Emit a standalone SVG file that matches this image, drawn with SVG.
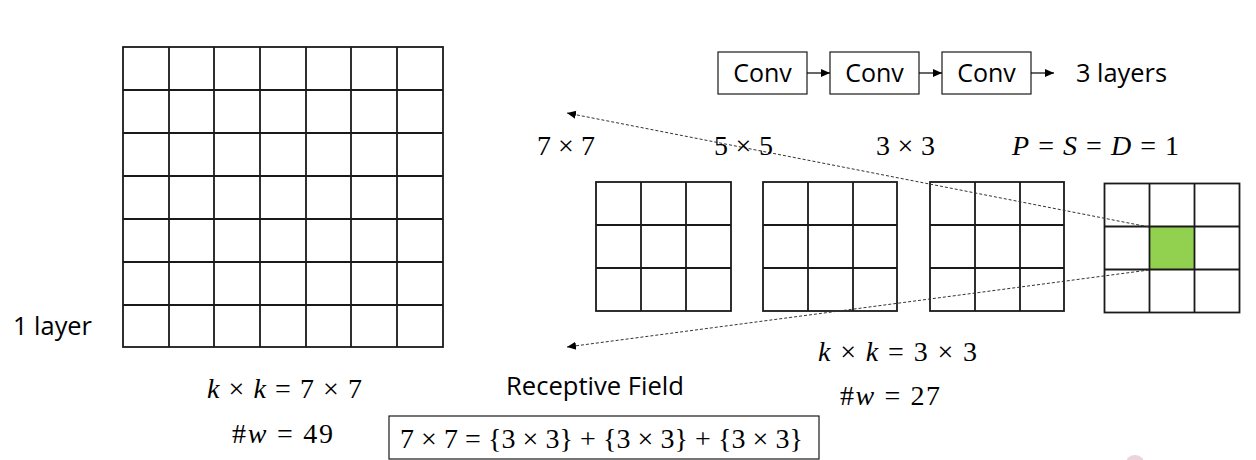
<svg xmlns="http://www.w3.org/2000/svg" width="1256" height="460" viewBox="0 0 1256 460">
<style>
.grid{fill:none;stroke:#1a1a1a;stroke-width:1.8}
.box{fill:#fff;stroke:#1a1a1a;stroke-width:1.2}
.sans{font-family:"Open Sans","Noto Sans",sans-serif;font-size:25px;fill:#000}
.math{font-family:"Liberation Serif","DejaVu Serif",serif;font-size:28px;fill:#000}
.it{font-style:italic}
.dash{fill:none;stroke:#333;stroke-width:1;stroke-dasharray:3 2}
.solid{fill:none;stroke:#000;stroke-width:1.2}
</style>
<defs>
<marker id="ah" markerWidth="10" markerHeight="10" refX="9" refY="5" orient="auto" markerUnits="userSpaceOnUse">
<path d="M0,1 L9,5 L0,9 Z" fill="#000"/>
</marker>
</defs>
<rect width="1256" height="460" fill="#fff"/>

<g id="big-grid">
<rect class="grid" x="123" y="47" width="320" height="300"/>
<path class="grid" d="M169,47V347M214,47V347M260,47V347M306,47V347M351,47V347M397,47V347M123,90H443M123,133H443M123,176H443M123,219H443M123,262H443M123,305H443"/>
</g>

<g id="grid1">
<rect class="grid" x="596" y="182" width="135" height="129"/>
<path class="grid" d="M641,182V311M686,182V311M596,225H731M596,268H731"/>
</g>
<g id="grid2">
<rect class="grid" x="763" y="182" width="134" height="129"/>
<path class="grid" d="M808,182V311M853,182V311M763,225H897M763,268H897"/>
</g>
<g id="grid3">
<rect class="grid" x="930" y="182" width="134" height="129"/>
<path class="grid" d="M975,182V311M1020,182V311M930,225H1064M930,268H1064"/>
</g>
<g id="grid4">
<rect x="1149.5" y="226.5" width="45" height="43" fill="#92d050"/>
<rect class="grid" x="1104.5" y="183.5" width="135" height="129"/>
<path class="grid" d="M1149.5,183.5V312.5M1194.5,183.5V312.5M1104.5,226.5H1239.5M1104.5,269.5H1239.5"/>
</g>

<g id="conv1"><rect class="box" x="718" y="52" width="89" height="42"/><text class="sans" x="762.5" y="82" text-anchor="middle">Conv</text></g>
<g id="conv2"><rect class="box" x="830" y="52" width="89" height="42"/><text class="sans" x="874.5" y="82" text-anchor="middle">Conv</text></g>
<g id="conv3"><rect class="box" x="942" y="52" width="89" height="42"/><text class="sans" x="986.5" y="82" text-anchor="middle">Conv</text></g>
<g id="label-3layers"><text class="sans" x="1076" y="82" textLength="91" lengthAdjust="spacingAndGlyphs">3 layers</text></g>
<g id="label-1layer"><text class="sans" x="13" y="335" textLength="79" lengthAdjust="spacingAndGlyphs">1 layer</text></g>
<g id="label-rf"><text class="sans" x="506" y="395" textLength="178" lengthAdjust="spacingAndGlyphs">Receptive Field</text></g>

<g id="connectors">
<line class="solid" x1="807" y1="73" x2="830" y2="73" marker-end="url(#ah)"/>
<line class="solid" x1="919" y1="73" x2="942" y2="73" marker-end="url(#ah)"/>
<line class="solid" x1="1031" y1="73" x2="1054" y2="73" marker-end="url(#ah)"/>
<line class="dash" x1="1149" y1="227" x2="567" y2="113" marker-end="url(#ah)"/>
<line class="dash" x1="1149" y1="270" x2="567" y2="347" marker-end="url(#ah)"/>
</g>

<g id="math-labels">
<text class="math" x="537" y="155" textLength="58" lengthAdjust="spacing">7 × 7</text>
<text class="math" x="714" y="155" textLength="59" lengthAdjust="spacing">5 × 5</text>
<text class="math" x="876" y="155" textLength="59" lengthAdjust="spacing">3 × 3</text>
<text class="math" x="1012" y="155" textLength="167" lengthAdjust="spacing"><tspan class="it">P</tspan> = <tspan class="it">S</tspan> = <tspan class="it">D</tspan> = 1</text>
<text class="math" x="207" y="398" textLength="155" lengthAdjust="spacing"><tspan class="it">k</tspan> × <tspan class="it">k</tspan> = 7 × 7</text>
<text class="math" x="232" y="443" textLength="101" lengthAdjust="spacing">#<tspan class="it">w</tspan> = 49</text>
<text class="math" x="818" y="361" textLength="159" lengthAdjust="spacing"><tspan class="it">k</tspan> × <tspan class="it">k</tspan> =  3 × 3</text>
<text class="math" x="840" y="405" textLength="100" lengthAdjust="spacing">#<tspan class="it">w</tspan> = 27</text>
</g>

<g id="formula">
<rect class="box" x="389" y="416" width="430" height="43"/>
<text class="math" x="400" y="448" textLength="403" lengthAdjust="spacing">7 × 7 = {3 × 3} + {3 × 3} + {3 × 3}</text>
</g>

<g id="logo-fragment">
<ellipse cx="1135" cy="463" rx="9" ry="8" fill="#ecd3dc"/>
</g>
</svg>
